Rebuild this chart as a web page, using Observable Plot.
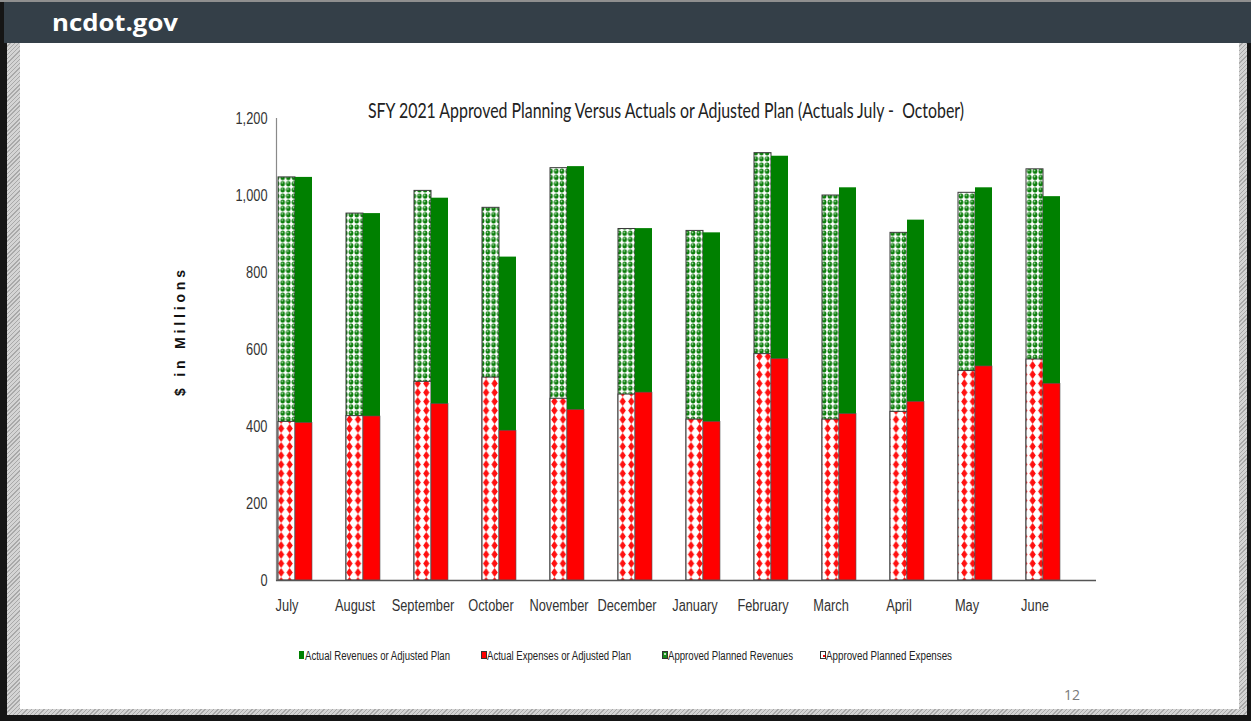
<!DOCTYPE html>
<html><head><meta charset="utf-8">
<script src="https://cdn.jsdelivr.net/npm/d3@7"></script>
<script src="https://cdn.jsdelivr.net/npm/@observablehq/plot@0.6"></script>
<style>
html,body{margin:0;padding:0;background:#fff;}
#page{position:relative;width:1251px;height:721px;overflow:hidden;background:#151515;}
#topline{position:absolute;left:0;top:0;width:1251px;height:2px;background:#8f8f8f;}
#header{position:absolute;left:4px;top:2px;width:1247px;height:41px;background:#343f48;}
.hatch{position:absolute;background:repeating-linear-gradient(135deg,#d4d4d4 0 2px,#a9a9a9 2px 3px);}
#content{position:absolute;left:20px;top:43px;width:1219px;height:666px;background:#fff;}
#chart{position:absolute;left:200px;top:100px;}
#overlay{position:absolute;left:0;top:0;pointer-events:none;}
#pnum{position:absolute;left:1064px;top:685px;font:14px "Open Sans",sans-serif;color:#7a7a7a;}
.lg{font:12.5px 'Liberation Sans',Arial,sans-serif;fill:#222;}
</style></head>
<body>
<div id="page">
  <div id="topline"></div>
  <div id="header"></div>
  <div class="hatch" style="left:7px;top:43px;width:13px;height:672px;"></div>
  <div class="hatch" style="left:1239px;top:43px;width:8px;height:672px;"></div>
  <div class="hatch" style="left:7px;top:709px;width:1240px;height:6px;"></div>
  <div id="content"></div>
  <div id="chart"></div>
  <div id="pnum">12</div>
  <svg id="overlay" width="1251" height="721">
    <defs>
      <pattern id="redPat" patternUnits="userSpaceOnUse" width="8.54" height="9">
        <rect width="8.54" height="9" fill="#fff"/>
        <polygon points="4.27,0 7.4,4.5 4.27,9 1.14,4.5" fill="#ff1010"/>
      </pattern>
      <pattern id="greenPat" patternUnits="userSpaceOnUse" width="5.7" height="6.2">
        <rect width="5.7" height="6.2" fill="#fff"/>
        <ellipse cx="2.85" cy="3.1" rx="2.3" ry="2.7" fill="#0a7d0a"/>
        <ellipse cx="2.4" cy="2.3" rx="0.8" ry="0.9" fill="#b8dcb8"/>
      </pattern>
    </defs>
    <text x="52" y="31" textLength="126" lengthAdjust="spacingAndGlyphs" fill="#fff" style="font:700 23px 'Open Sans',sans-serif">ncdot.gov</text>
    <text x="666" y="118" text-anchor="middle" textLength="596" lengthAdjust="spacingAndGlyphs" fill="#222" style="font:22px Lato,'Open Sans',sans-serif;white-space:pre">SFY 2021 Approved Planning Versus Actuals or Adjusted Plan (Actuals July -  October)</text>
    <text transform="translate(180,333) rotate(-90)" text-anchor="middle" dominant-baseline="central" textLength="126" lengthAdjust="spacing" fill="#111" style="font:700 14px 'Liberation Sans',Arial,sans-serif">$ in Millions</text>
    <g id="legend">
      <rect x="299" y="651" width="5" height="8" fill="#008000"/>
      <text class="lg" x="305" y="660" textLength="145" lengthAdjust="spacingAndGlyphs">Actual Revenues or Adjusted Plan</text>
      <rect x="481.5" y="651.5" width="5" height="7" fill="#ff0000" stroke="#333" stroke-width="1"/>
      <text class="lg" x="487" y="660" textLength="144" lengthAdjust="spacingAndGlyphs">Actual Expenses or Adjusted Plan</text>
      <rect x="662.5" y="651.5" width="5" height="7" fill="#1a8a1a" stroke="#333" stroke-width="1"/>
      <rect x="664" y="653" width="2" height="2" fill="#bfe0bf"/>
      <text class="lg" x="668" y="660" textLength="125" lengthAdjust="spacingAndGlyphs">Approved Planned Revenues</text>
      <rect x="820.5" y="651.5" width="5" height="7" fill="#fff" stroke="#333" stroke-width="1"/>
      <rect x="823" y="655" width="2" height="2" fill="#ff0000"/>
      <text class="lg" x="826" y="660" textLength="126" lengthAdjust="spacingAndGlyphs">Approved Planned Expenses</text>
    </g>
  </svg>
</div>
<script>
// ---- data ($ millions) ----
const months = ["July","August","September","October","November","December","January","February","March","April","May","June"];
const plannedRevenues = [1047, 953, 1012, 968, 1071, 913, 908, 1110, 1000, 903, 1007, 1068];
const plannedExpenses = [412, 427, 516, 527, 472, 483, 418, 588, 418, 438, 544, 574];
const actualRevenues  = [1047, 953, 993, 840, 1075, 914, 903, 1102, 1020, 936, 1020, 997];
const actualExpenses  = [409, 426, 458, 389, 443, 488, 412, 575, 432, 464, 556, 511];
const yTicks = [0, 200, 400, 600, 800, 1000, 1200];

// four slots per month: planned bar, actual bar, then empty gap
const slots = ["P", "A", "g1", "g2"];
const key = (m, s) => m + "|" + s;
const xDomain = months.flatMap(m => slots.map(s => key(m, s)));
const rows = (vals, s) => months.map((m, i) => ({x: key(m, s), y: vals[i]}));

const chart = Plot.plot({
  width: 920, height: 520,
  marginLeft: 76, marginRight: 24, marginTop: 18, marginBottom: 40,
  style: {fontFamily: "'Liberation Sans',Arial,sans-serif", fontSize: "16px", color: "#333", background: "transparent", overflow: "visible"},
  x: {domain: xDomain, padding: 0},
  y: {domain: [0, 1200]},
  marks: [
    Plot.barY(rows(plannedRevenues, "P"), {x: "x", y: "y", fill: "url(#greenPat)", stroke: "#3a3a3a", strokeWidth: 1}),
    Plot.barY(rows(plannedExpenses, "P"), {x: "x", y: "y", fill: "url(#redPat)", stroke: "#3a3a3a", strokeWidth: 1}),
    Plot.barY(rows(actualRevenues, "A"), {x: "x", y: "y", fill: "#008000"}),
    Plot.barY(rows(actualExpenses, "A"), {x: "x", y: "y", fill: "#ff0000", stroke: "#555", strokeWidth: 0.6}),
    Plot.frame({anchor: "left", stroke: "#8a8a8a", strokeWidth: 1.2}),
    Plot.ruleY([0], {stroke: "#555", strokeWidth: 1.5}),
    Plot.axisY({ticks: yTicks, tickSize: 0, tickPadding: 9, tickFormat: d3.format(","), label: null, fontSize: 16}),
    Plot.axisX({ticks: months.map(m => key(m, "P")), tickSize: 0, tickPadding: 19, tickFormat: d => d.split("|")[0], label: null, fontSize: 16})
  ]
});
document.getElementById("chart").appendChild(chart);
// condense the axis labels (reference uses a narrow face)
d3.select(chart).selectAll('g[aria-label$="tick label"] text').each(function () {
  const w = this.getComputedTextLength();
  this.setAttribute("textLength", (w * 0.8).toFixed(1));
  this.setAttribute("lengthAdjust", "spacingAndGlyphs");
});
</script>
</body></html>
